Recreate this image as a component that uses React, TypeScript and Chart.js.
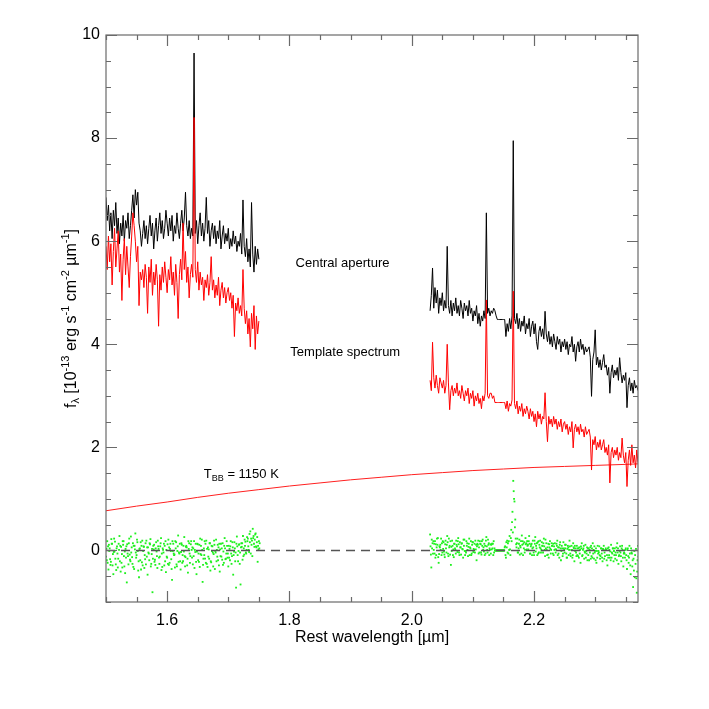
import React, { useEffect, useRef } from "react";
import { Chart, registerables } from "chart.js";

Chart.register(...registerables);

// wavelength sampling of the two spectral windows (µm)
const X_LEFT_START = 1.5;
const X_RIGHT_START = 2.03;
const X_STEP = 0.002;
const X_MIN = 1.5;
const X_MAX = 2.37;
const Y_MIN = -1;
const Y_MAX = 10;
const X_TICKS = [1.6, 1.8, 2.0, 2.2];
const Y_TICKS = [0, 2, 4, 6, 8, 10];

// Central aperture (black)
const centralLeft = [
  6.85, 6.4, 6.7, 6.2, 6.55, 6.05, 6.6, 6.3, 6.75, 6.15,
  6.45, 5.95, 6.35, 6.1, 6.5, 6.0, 6.4, 6.25, 6.55, 6.05,
  6.3, 6.6, 6.9, 6.45, 7.0, 6.7, 6.95, 6.35, 6.2, 5.9,
  6.15, 6.4, 6.05, 6.3, 5.95, 6.25, 6.5, 6.1, 6.35, 5.85,
  6.2, 6.45, 6.0, 6.3, 6.55, 6.15, 6.4, 6.05, 6.25, 6.6,
  6.35, 6.1, 6.45, 6.2, 6.5, 6.0, 6.3, 6.15, 6.55, 6.25,
  6.05, 6.35, 6.6, 6.2, 6.45, 6.95, 6.3, 6.1, 6.4, 6.05,
  6.25, 6.1, 9.65, 6.15, 6.4, 5.95, 6.3, 6.55, 6.1, 6.35,
  6.0, 6.25, 6.85, 6.15, 6.4, 5.9, 6.2, 6.35, 6.05, 6.3,
  5.95, 6.2, 6.05, 6.4, 5.85, 6.1, 6.3, 5.95, 6.15, 6.0,
  6.25, 5.85, 6.05, 5.9, 6.2, 5.95, 6.1, 5.8, 6.0, 5.9,
  6.15, 5.75, 6.8, 5.9, 5.7, 6.05, 5.6, 5.85, 5.5, 6.75,
  5.75, 5.4, 5.9, 5.55, 5.85, 5.65,
];
const centralRight = [
  4.65, 4.95, 5.48, 4.7, 5.1, 4.8, 5.05, 4.6, 4.9, 4.75,
  5.0, 4.65, 4.85, 4.7, 5.9, 4.75, 4.6, 4.85, 4.55, 4.8,
  4.65, 4.9, 4.6, 4.75, 4.55, 4.85, 4.7, 4.5, 4.8, 4.65,
  4.75, 4.55, 4.85, 4.6, 4.7, 4.45, 4.65, 4.55, 4.75, 4.4,
  4.6, 4.35, 4.55, 4.45, 4.65, 4.5, 6.55, 4.6, 4.7, 4.55,
  4.65, 4.6, 4.7, 4.65, 4.55, 4.48, 4.48, 4.48, 4.48, 4.48,
  4.48, 4.48, 4.15, 4.4, 4.25, 4.5, 4.3, 4.55, 7.95, 4.5,
  4.4, 4.6, 4.3, 4.5, 4.25, 4.45, 4.35, 4.55, 4.2, 4.4,
  4.3, 4.5, 4.15, 4.35, 4.45, 4.2, 4.4, 4.05, 3.9, 4.25,
  4.35, 4.15, 4.3, 4.1, 4.64, 4.2, 4.05, 4.25, 4.0, 4.15,
  3.95, 4.2, 4.05, 3.9, 4.15, 4.0, 4.1, 3.85, 4.05, 3.95,
  4.1, 3.9, 4.05, 3.8, 4.0, 3.95, 4.15, 3.85, 4.0, 3.67,
  3.95, 4.05, 3.85, 4.1, 3.9, 4.0, 3.8, 3.95, 3.85, 3.9,
  3.95, 3.75, 2.99, 3.7, 3.85, 4.28, 3.6, 3.75, 3.55, 3.7,
  3.5, 3.65, 3.8, 3.55, 3.6, 3.4, 3.55, 3.05, 3.45, 3.6,
  3.35, 3.5, 3.4, 3.55, 3.3, 3.74, 3.45, 3.25, 3.4, 3.3,
  3.45, 2.77, 3.2, 3.35, 3.1, 3.25, 3.05, 3.3, 3.15, 3.2, 3.1,
];

// Template spectrum (red)
const templateLeft = [
  5.9, 5.45, 6.1, 5.6, 5.95, 5.15, 5.8, 6.25, 5.5, 5.85,
  6.2, 5.4, 5.75, 4.85, 5.65, 6.05, 5.35, 5.9, 5.5, 5.1,
  5.7, 6.1, 6.55, 6.3, 6.0, 5.6, 5.9, 4.75, 5.4, 5.25,
  5.45, 5.1, 5.55, 5.3, 4.6, 5.5, 5.2, 5.65, 4.95, 5.4,
  5.15, 5.55, 5.25, 4.35, 5.35, 5.05, 5.5, 5.2, 5.6, 5.3,
  5.0, 5.45, 5.25, 5.7, 5.15, 5.4, 4.95, 5.55, 5.2, 4.5,
  5.35, 5.65, 5.25, 6.35, 5.45, 5.8, 5.2, 5.5, 4.9, 5.35,
  5.55, 5.3, 8.4, 5.45, 5.2, 5.6, 5.05, 5.4, 5.15, 5.3,
  4.85, 5.25, 5.1, 5.35, 4.95, 5.2, 5.7, 5.05, 5.25, 4.9,
  5.15, 4.95, 5.3, 4.75, 5.05, 5.2, 4.9, 5.1, 4.8, 5.0,
  5.1, 4.85, 5.0, 4.7, 4.95, 4.15, 4.8, 4.65, 4.9, 4.6,
  4.75, 4.55, 5.45, 4.7, 4.4, 4.65, 4.2, 4.5, 3.95, 4.6,
  4.3, 4.75, 3.9, 4.55, 4.2, 4.45,
];
const templateRight = [
  3.3, 3.1, 4.04, 3.35, 3.15, 3.4, 3.2, 3.05, 3.35, 3.25,
  3.15, 3.3, 3.05, 3.2, 4.0, 3.25, 2.73, 3.1, 3.2, 3.0,
  3.15, 3.05, 3.25, 3.0, 3.1, 2.95, 3.2, 3.05, 2.9, 3.1,
  3.0, 3.15, 2.85, 3.05, 2.95, 3.1, 2.8, 3.0, 2.9, 3.05,
  2.85, 2.95, 2.75, 3.0, 2.9, 3.05, 4.86, 3.0, 2.95, 3.05,
  3.05, 2.95, 3.0, 2.87, 2.87, 2.87, 2.87, 2.87, 2.87, 2.87,
  2.87, 2.87, 2.75, 2.9, 2.7, 2.85, 2.8, 2.92, 5.03, 2.85,
  2.75, 2.9, 2.65, 2.8, 2.7, 2.85, 2.6, 2.75, 2.65, 2.8,
  2.7, 2.55, 2.75, 2.6, 2.7, 2.5, 2.65, 2.4, 2.7, 2.55,
  2.65, 2.45, 2.6, 2.55, 3.06, 2.5, 2.11, 2.6, 2.45, 2.55,
  2.4, 2.6, 2.45, 2.55, 2.35, 2.5, 2.4, 2.55, 2.3, 2.45,
  2.5, 2.35, 2.45, 2.25, 2.4, 2.3, 2.5, 1.99, 2.35, 2.45,
  2.3, 2.4, 2.25, 2.45, 2.3, 2.35, 2.2, 2.4, 2.25, 2.3,
  2.35, 2.2, 1.56, 2.15, 2.05, 2.21, 1.95, 2.1, 2.0, 2.15,
  1.95, 2.05, 2.15, 1.9, 2.0, 1.85, 2.05, 1.31, 1.9, 2.0,
  1.8, 1.95, 1.85, 2.0, 1.75, 1.9, 1.8, 2.18, 1.85, 1.7,
  1.9, 1.24, 1.75, 1.95, 1.65, 2.05, 1.7, 1.85, 1.6, 1.95, 1.7,
];

// Residuals (green), three interleaved samplings per window
const RES_OFFSET_B = 0.0007;
const RES_OFFSET_C = 0.0013;
const residualLeft = [
  -0.12, 0.18, -0.37, 0.04, -0.22, 0.13, -0.46, -0.02, -0.27, 0.08,
  -0.16, 0.28, -0.41, -0.07, 0.11, -0.31, 0.03, -0.62, -0.11, 0.23,
  -0.21, 0.06, 0.14, -0.36, 0.33, -0.09, -0.01, -0.52, -0.19, 0.09,
  -0.29, 0.07, -0.17, 0.19, -0.47, -0.06, 0.12, -0.26, -0.81, 0.02,
  -0.18, 0.16, -0.34, 0.03, -0.12, 0.24, -0.32, -0.04, 0.09, -0.42,
  -0.14, 0.21, -0.24, -0.01, -0.57, 0.13, -0.08, 0.04, -0.31, 0.29,
  -0.06, -0.37, 0.11, -0.21, 0.26, -0.13, 0.06, -0.43, 0.14, -0.11,
  0.01, -0.27, 0.18, -0.03, -0.46, 0.12, -0.22, 0.23, -0.09, -0.61,
  0.04, -0.16, 0.19, -0.32, 0.02, 0.14, -0.23, 0.08, -0.07, -0.36,
  0.21, -0.12, 0.06, -0.41, 0.13, -0.18, -0.02, 0.24, -0.16, 0.09,
  -0.31, 0.03, 0.18, -0.11, -0.47, 0.16, -0.04, 0.27, -0.21, 0.12,
  -0.66, 0.07, 0.28, -0.08, 0.17, 0.01, 0.23, -0.03, 0.37, 0.11,
  0.42, 0.13, 0.31, 0.06, -0.22, 0.18,
];
const residualLeftB = [
  0.03, -0.24, 0.11, -0.17, 0.22, -0.29, -0.03, 0.17, -0.38, -0.06,
  0.13, -0.21, 0.07, -0.33, 0.18, -0.02, -0.14, 0.12, -0.27, -0.08,
  0.27, -0.13, -0.32, 0.09, -0.04, 0.21, -0.39, 0.03, 0.16, -0.23,
  -0.01, -0.34, 0.14, -0.12, 0.06, -0.19, 0.22, -0.07, -0.16, 0.11,
  -0.28, -0.02, 0.19, -0.14, 0.08, -0.38, 0.04, 0.13, -0.21, 0.01,
  0.12, -0.28, 0.03, -0.17, 0.18, -0.06, -0.33, 0.16, -0.01, -0.22,
  0.13, -0.03, -0.24, 0.09, -0.11, 0.07, -0.29, 0.18, -0.06, 0.12,
  -0.14, 0.04, -0.34, 0.13, -0.02, -0.19, 0.11, -0.07, 0.21, -0.28,
  -0.09, 0.13, -0.26, 0.06, -0.16, -0.39, 0.09, -0.04, 0.19, -0.01,
  -0.21, 0.11, -0.29, 0.02, -0.12, 0.14, -0.24, 0.04, -0.06, -0.14,
  0.09, -0.19, -0.06, 0.16, -0.09, 0.04, -0.72, 0.08, -0.01, -0.26,
  0.06, 0.14, -0.11, 0.21, -0.04, 0.26, 0.08, 0.32, -0.06, 0.19,
  0.24, 0.07, 0.33, 0.16, 0.09, 0.04,
];
const residualLeftC = [
  -0.19, 0.08, -0.01, -0.28, 0.13, -0.07, 0.23, -0.16, 0.04, -0.33,
  0.01, 0.09, -0.24, 0.18, -0.11, -0.44, 0.08, -0.06, 0.14, -0.18,
  -0.04, -0.26, 0.09, 0.02, -0.14, 0.16, -0.21, 0.04, -0.37, 0.19,
  0.08, -0.09, -0.27, 0.06, -0.04, 0.14, -0.31, 0.03, 0.09, -0.22,
  0.04, -0.11, 0.08, -0.26, 0.14, -0.06, 0.01, -0.29, 0.18, -0.12,
  -0.26, 0.06, 0.13, -0.36, -0.01, -0.09, 0.18, -0.27, 0.08, -0.04,
  -0.21, 0.14, -0.09, -0.02, -0.31, 0.09, -0.16, 0.03, -0.24, 0.18,
  0.06, -0.11, 0.01, -0.22, 0.13, -0.06, -0.32, 0.09, 0.01, -0.16,
  0.18, -0.24, 0.03, -0.12, 0.14, -0.21, -0.01, -0.31, 0.11, -0.04,
  0.01, -0.19, 0.13, -0.11, 0.04, -0.28, 0.09, -0.17, 0.18, -0.06,
  -0.14, 0.08, -0.26, 0.06, -0.02, -0.21, 0.13, -0.09, 0.11, -0.04,
  0.14, -0.18, 0.04, 0.09, -0.06, 0.18, 0.01, 0.16, 0.23, -0.11,
  0.28, 0.21, 0.08, 0.26, 0.02, 0.14,
];
const residualRight = [
  0.31, -0.33, 0.14, 0.01, 0.18, -0.09, 0.11, -0.24, 0.06, 0.23,
  -0.04, 0.16, -0.13, 0.04, 0.28, -0.11, 0.09, -0.28, 0.19, 0.02,
  0.13, -0.06, 0.08, 0.24, -0.09, 0.06, 0.14, -0.14, 0.21, -0.01,
  0.09, -0.11, 0.23, 0.04, -0.06, 0.16, 0.01, 0.19, -0.19, 0.11,
  0.06, 0.13, -0.08, 0.21, -0.02, 0.09, 0.26, -0.04, 0.14, 0.01,
  0.11, 0.04, 0.18, 0.0, 0.0, 0.0, 0.0, 0.0, 0.0, 0.0,
  0.0, 0.06, -0.14, 0.19, -0.06, 0.28, 0.24, 0.55, 1.35, 0.95,
  0.23, 0.14, -0.04, 0.21, 0.06, 0.29, -0.09, 0.16, 0.24, 0.02,
  0.11, 0.28, -0.06, 0.13, 0.19, -0.09, 0.26, 0.04, 0.16, -0.04,
  0.19, 0.01, 0.09, 0.23, -0.11, 0.14, 0.06, -0.14, 0.18, 0.01,
  0.09, -0.09, 0.14, 0.02, 0.19, -0.06, 0.11, -0.19, 0.04, 0.16,
  -0.04, 0.11, -0.14, 0.06, 0.19, -0.11, 0.01, 0.14, -0.21, 0.04,
  0.09, -0.11, 0.06, -0.24, 0.14, 0.01, -0.16, 0.11, -0.06, 0.04,
  -0.19, 0.06, -0.11, 0.14, -0.16, -0.01, -0.24, 0.09, -0.04, -0.16,
  0.04, -0.21, 0.09, -0.11, 0.01, -0.29, 0.06, -0.14, 0.11, -0.06,
  -0.21, 0.04, -0.09, 0.14, -0.26, -0.01, -0.11, 0.09, -0.31, -0.06,
  0.04, -0.36, -0.11, 0.09, -0.46, -0.06, -0.71, -0.01, -0.26, -0.82, 0.09,
];
const residualRightB = [
  0.08, 0.21, -0.06, 0.13, -0.14, 0.06, 0.24, -0.07, 0.11, -0.09,
  0.18, -0.02, 0.12, -0.04, 0.16, 0.23, -0.08, 0.07, 0.09, -0.13,
  0.04, 0.19, -0.03, 0.12, 0.16, -0.08, 0.03, 0.21, -0.01, -0.04,
  0.14, 0.07, -0.09, 0.18, 0.11, -0.03, 0.13, 0.02, 0.08, 0.19,
  -0.04, 0.12, 0.18, 0.01, 0.13, -0.06, 0.08, 0.21, -0.09, 0.12,
  0.02, 0.13, -0.04, 0.0, 0.0, 0.0, 0.0, 0.0, 0.0, 0.0,
  0.0, 0.08, 0.16, -0.04, 0.18, 0.02, 0.4, 0.75, 1.15, 0.45,
  0.12, 0.23, 0.04, -0.08, 0.18, 0.11, 0.13, -0.04, 0.12, 0.18,
  0.02, 0.13, 0.08, -0.09, 0.06, 0.19, -0.02, 0.14, -0.06, 0.11,
  0.04, 0.16, -0.04, 0.08, 0.21, 0.01, -0.08, 0.12, 0.03, 0.14,
  -0.06, 0.08, 0.02, 0.13, -0.09, 0.06, 0.16, -0.01, -0.11, 0.04,
  0.11, -0.06, 0.03, -0.09, 0.08, 0.01, -0.14, 0.06, 0.09, -0.04,
  -0.09, 0.04, -0.06, 0.08, -0.11, 0.04, -0.02, -0.14, 0.06, -0.09,
  0.01, -0.16, 0.04, -0.06, 0.08, -0.19, -0.01, -0.06, 0.08, -0.11,
  -0.06, 0.03, -0.16, 0.01, -0.19, 0.04, -0.09, -0.02, -0.14, 0.04,
  -0.01, -0.16, 0.06, -0.04, -0.11, 0.08, -0.21, 0.01, -0.06, -0.14,
  -0.09, 0.01, -0.24, -0.06, 0.04, -0.31, -0.16, -0.52, 0.03, -0.41, -0.12,
];
const residualRightC = [
  -0.08, 0.04, 0.18, -0.06, 0.12, 0.23, -0.13, 0.08, 0.01, 0.14,
  0.03, -0.08, 0.19, 0.11, -0.06, 0.06, 0.18, -0.01, -0.09, 0.13,
  0.01, 0.11, 0.18, -0.04, 0.06, 0.13, 0.02, 0.09, -0.09, 0.18,
  0.01, 0.13, 0.06, -0.09, 0.16, 0.03, -0.04, 0.11, 0.13, -0.06,
  0.18, -0.04, 0.09, 0.06, -0.09, 0.19, 0.01, 0.11, 0.04, -0.06,
  0.13, -0.09, 0.04, 0.0, 0.0, 0.0, 0.0, 0.0, 0.0, 0.0,
  0.0, -0.09, 0.06, 0.14, 0.01, -0.09, 0.18, 0.35, 1.0, 0.6,
  0.06, -0.04, 0.13, 0.09, -0.06, 0.18, 0.04, 0.01, 0.14, 0.09,
  0.18, -0.06, 0.11, 0.04, -0.04, 0.13, 0.09, -0.09, 0.18, 0.06,
  -0.04, 0.09, 0.14, 0.01, 0.04, -0.09, 0.13, 0.06, -0.06, 0.09,
  0.13, 0.01, -0.04, 0.09, 0.06, -0.14, 0.04, 0.09, -0.06, 0.01,
  0.04, -0.14, 0.09, 0.01, -0.06, 0.09, -0.09, 0.04, -0.01, -0.11,
  0.04, -0.14, 0.01, 0.04, -0.09, 0.09, -0.04, -0.01, -0.19, 0.04,
  -0.04, 0.09, -0.14, 0.01, -0.04, 0.04, -0.14, -0.01, -0.09, 0.04,
  -0.14, 0.01, -0.04, 0.04, -0.09, -0.14, 0.01, -0.19, -0.04, 0.04,
  -0.09, -0.04, -0.19, 0.04, -0.09, -0.04, 0.04, -0.14, -0.04, 0.01,
  -0.19, 0.04, -0.14, -0.29, -0.04, -0.19, -0.39, -0.09, -0.54, -0.19, -0.34,
];

// Blackbody T = 1150 K curve, read at 0.05 µm
const bbWave = [1.5, 1.55, 1.6, 1.65, 1.7, 1.75, 1.8, 1.85, 1.9, 1.95, 2.0, 2.05, 2.1, 2.15, 2.2, 2.25, 2.3, 2.35, 2.37];
const bbFlux = [0.77, 0.86, 0.94, 1.03, 1.11, 1.18, 1.25, 1.31, 1.37, 1.42, 1.47, 1.51, 1.55, 1.58, 1.61, 1.63, 1.65, 1.67, 1.68];

const FONT = "'Liberation Sans', Arial, Helvetica, sans-serif";
const AXIS_COLOR = "#6a6a6a";

type Part = { t: string; size: number; dy: number };

function drawRich(ctx: CanvasRenderingContext2D, parts: Part[], x: number, y: number, align: "left" | "center") {
  let total = 0;
  for (const p of parts) {
    ctx.font = `${p.size}px ${FONT}`;
    total += ctx.measureText(p.t).width;
  }
  let cx = align === "center" ? x - total / 2 : x;
  ctx.textAlign = "left";
  ctx.textBaseline = "alphabetic";
  for (const p of parts) {
    ctx.font = `${p.size}px ${FONT}`;
    ctx.fillText(p.t, cx, y + p.dy);
    cx += ctx.measureText(p.t).width;
  }
}

const decorPlugin = {
  id: "decor",
  afterDatasetsDraw(chart: any) {
    const { ctx, chartArea } = chart;
    const { left, right, top, bottom } = chartArea;
    const xs = chart.scales.x;
    const ys = chart.scales.y;
    ctx.save();
    ctx.strokeStyle = AXIS_COLOR;
    ctx.lineWidth = 1.2;
    ctx.strokeRect(left, top, right - left, bottom - top);
    ctx.beginPath();
    for (let k = 0; X_MIN + k * 0.05 <= X_MAX + 1e-9; k++) {
      const v = X_MIN + k * 0.05;
      const major = Math.abs(v / 0.2 - Math.round(v / 0.2)) < 1e-6;
      const len = major ? 11 : 5;
      const px = Math.round(xs.getPixelForValue(v)) + 0.5;
      ctx.moveTo(px, bottom);
      ctx.lineTo(px, bottom - len);
      ctx.moveTo(px, top);
      ctx.lineTo(px, top + len);
    }
    for (let k = 0; Y_MIN + k * 0.5 <= Y_MAX + 1e-9; k++) {
      const v = Y_MIN + k * 0.5;
      const major = Math.abs(v / 2 - Math.round(v / 2)) < 1e-6;
      const len = major ? 11 : 5;
      const py = Math.round(ys.getPixelForValue(v)) + 0.5;
      ctx.moveTo(left, py);
      ctx.lineTo(left + len, py);
      ctx.moveTo(right, py);
      ctx.lineTo(right - len, py);
    }
    ctx.stroke();

    ctx.fillStyle = "#000";
    // annotations in data coordinates
    drawRich(ctx, [{ t: "Central aperture", size: 13, dy: 0 }], xs.getPixelForValue(1.81), ys.getPixelForValue(5.49), "left");
    drawRich(ctx, [{ t: "Template spectrum", size: 13, dy: 0 }], xs.getPixelForValue(1.8015), ys.getPixelForValue(3.77), "left");
    drawRich(
      ctx,
      [
        { t: "T", size: 13, dy: 0 },
        { t: "BB", size: 9, dy: 3 },
        { t: " = 1150 K", size: 13, dy: 0 },
      ],
      xs.getPixelForValue(1.66),
      ys.getPixelForValue(1.41),
      "left"
    );

    // x title
    drawRich(ctx, [{ t: "Rest wavelength [µm]", size: 16, dy: 0 }], (left + right) / 2, 642, "center");

    // y title
    ctx.save();
    ctx.translate(70, (top + bottom) / 2);
    ctx.rotate(-Math.PI / 2);
    drawRich(
      ctx,
      [
        { t: "f", size: 16, dy: 0 },
        { t: "λ", size: 11, dy: 3 },
        { t: " [10", size: 16, dy: 0 },
        { t: "-13", size: 11, dy: -7 },
        { t: " erg s", size: 16, dy: 0 },
        { t: "-1", size: 11, dy: -7 },
        { t: " cm", size: 16, dy: 0 },
        { t: "-2", size: 11, dy: -7 },
        { t: " µm", size: 16, dy: 0 },
        { t: "-1", size: 11, dy: -7 },
        { t: "]", size: 16, dy: 0 },
      ],
      0,
      6,
      "center"
    );
    ctx.restore();
    ctx.restore();
  },
};

function toPts(start: number, ys: number[]) {
  return ys.map((y, i) => ({ x: +(start + i * X_STEP).toFixed(4), y }));
}

export default function App() {
  const ref = useRef<HTMLCanvasElement | null>(null);
  useEffect(() => {
    if (!ref.current) return;
    const lineStyle = (color: string) => ({
      borderColor: color,
      backgroundColor: color,
      borderWidth: 1,
      pointRadius: 0,
      fill: false,
      tension: 0,
    });
    const greenStyle = {
      showLine: false,
      pointRadius: 1.3,
      pointStyle: "rect",
      pointBorderWidth: 0,
      pointBackgroundColor: "#1ef01e",
      borderColor: "#1ef01e",
    };
    const chart = new Chart(ref.current, {
      type: "line",
      data: {
        datasets: [
          {
            data: [
              { x: X_MIN, y: 0 },
              { x: X_MAX, y: 0 },
            ],
            borderColor: "#555",
            borderWidth: 1.5,
            borderDash: [9, 6],
            pointRadius: 0,
          },
          { data: toPts(X_LEFT_START, templateLeft), ...lineStyle("#ff0000") },
          { data: toPts(X_RIGHT_START, templateRight), ...lineStyle("#ff0000") },
          { data: toPts(X_LEFT_START, centralLeft), ...lineStyle("#000000") },
          { data: toPts(X_RIGHT_START, centralRight), ...lineStyle("#000000") },
          { data: toPts(X_LEFT_START, residualLeft), ...greenStyle },
          { data: toPts(X_LEFT_START + RES_OFFSET_B, residualLeftB), ...greenStyle },
          { data: toPts(X_LEFT_START + RES_OFFSET_C, residualLeftC), ...greenStyle },
          { data: toPts(X_RIGHT_START, residualRight), ...greenStyle },
          { data: toPts(X_RIGHT_START + RES_OFFSET_B, residualRightB), ...greenStyle },
          { data: toPts(X_RIGHT_START + RES_OFFSET_C, residualRightC), ...greenStyle },
          {
            data: bbWave.map((x, i) => ({ x, y: bbFlux[i] })),
            borderColor: "#ff2020",
            borderWidth: 1,
            pointRadius: 0,
            tension: 0.4,
            cubicInterpolationMode: "monotone",
          },
        ] as any,
      },
      options: {
        animation: false,
        responsive: false,
        maintainAspectRatio: false,
        events: [],
        layout: { padding: { left: 0, top: 35, right: 71, bottom: 0 } },
        plugins: { legend: { display: false }, tooltip: { enabled: false }, title: { display: false } },
        scales: {
          x: {
            type: "linear",
            min: X_MIN,
            max: X_MAX,
            grid: { display: false, drawTicks: false },
            border: { display: false },
            afterBuildTicks: (s: any) => {
              s.ticks = X_TICKS.map((v) => ({ value: v }));
            },
            afterFit: (s: any) => {
              s.height = 107;
            },
            ticks: {
              padding: 9,
              color: "#000",
              font: { family: FONT, size: 16 },
              maxRotation: 0,
              autoSkip: false,
              callback: (v: any) => Number(v).toFixed(1),
            },
          },
          y: {
            type: "linear",
            min: Y_MIN,
            max: Y_MAX,
            grid: { display: false, drawTicks: false },
            border: { display: false },
            afterBuildTicks: (s: any) => {
              s.ticks = Y_TICKS.map((v) => ({ value: v }));
            },
            afterFit: (s: any) => {
              s.width = 106;
            },
            ticks: {
              padding: 6,
              color: "#000",
              font: { family: FONT, size: 16 },
              autoSkip: false,
              callback: (v: any) => String(v),
            },
          },
        },
      },
      plugins: [decorPlugin],
    } as any);
    return () => chart.destroy();
  }, []);
  return (
    <div style={{ position: "fixed", left: 0, top: 0, width: 709, height: 709, background: "#fff" }}>
      <canvas ref={ref} width={709} height={709} style={{ width: 709, height: 709 }} />
    </div>
  );
}
